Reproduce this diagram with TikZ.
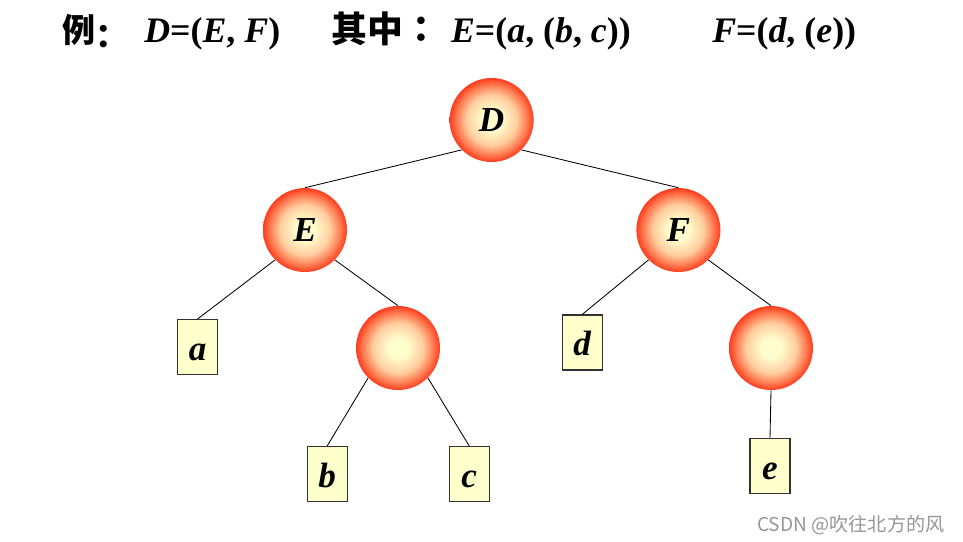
\documentclass[tikz,border=0pt]{standalone}
\usepackage{fontspec}
\setmainfont{Liberation Serif}
\newfontfamily\cjk{Noto Sans CJK TC}
\newfontfamily\cjkmark{Noto Sans CJK SC}
\usepackage{tikz}
\usetikzlibrary{positioning}
\definecolor{ballin}{RGB}{255,252,205}
\definecolor{ballmid}{RGB}{255,205,158}
\definecolor{ballrim}{RGB}{255,122,80}
\definecolor{ballout}{RGB}{255,60,30}
\definecolor{leaffill}{RGB}{255,255,204}
\definecolor{leafline}{RGB}{50,50,50}
\definecolor{markgray}{RGB}{150,150,150}
\pgfdeclareradialshading{ballshade}{\pgfpoint{0bp}{0bp}}{color(0bp)=(ballin); color(6bp)=(ballin); color(15bp)=(ballmid); color(21bp)=(ballrim); color(25bp)=(ballout); color(50bp)=(ballout)}

\begin{document}
\begin{tikzpicture}[
    ball/.style={circle, minimum size=2.1cm, inner sep=0pt, shading=ballshade, font=\fontsize{25}{28}\selectfont\bfseries\itshape},
    leaf/.style={draw=leafline, line width=0.8pt, fill=leaffill, minimum width=1cm, inner sep=0pt, text height=1.0125cm, text depth=0.3625cm, font=\fontsize{25}{28}\selectfont\bfseries\itshape},
    branch/.style={draw, line width=0.6pt},
    title/.style={anchor=base west, inner sep=0pt, font=\fontsize{25.5}{30}\selectfont\bfseries}
]
    \fill[white] (0,0) rectangle (24.075,-13.525);
    \useasboundingbox (0,0) rectangle (24.075,-13.525);

    % Title line
    \node[title, font=\fontsize{23.5}{28}\selectfont\bfseries] (ex) at (1.55,-1.0625) {\cjkmark 例\raisebox{-0.12cm}{：}};
    \node[title] (defD) at (3.6,-1.0625) {\textit{D}=(\textit{E}, \textit{F})};
    \node[title] (where) at (8.28,-1.0625) {\cjk 其中：};
    \node[title] (defE) at (11.27,-1.0625) {\textit{E}=(\textit{a}, (\textit{b}, \textit{c}))};
    \node[title] (defF) at (17.8,-1.0625) {\textit{F}=(\textit{d}, (\textit{e}))};

    % Inner nodes
    \node[ball] (D) at (12.29,-3.0) {D};
    \node[ball] (E) at (7.625,-5.75) {E};
    \node[ball] (F) at (16.96,-5.75) {F};
    \node[ball] (bc) at (9.95,-8.7) {};
    \node[ball] (ee) at (19.275,-8.7) {};

    % Atoms
    \node[leaf] (a) at (4.94,-8.675) {a};
    \node[leaf] (b) at (8.18,-11.85) {b};
    \node[leaf] (c) at (11.73,-11.85) {c};
    \node[leaf] (d) at (14.555,-8.5625) {d};
    \node[leaf] (e) at (19.25,-11.65) {e};

    % Branches
    \draw[branch] (D.225) -- (E.north);
    \draw[branch] (D.315) -- (F.north);
    \draw[branch] (E.225) -- (a.north);
    \draw[branch] (E.315) -- (bc.north);
    \draw[branch] (bc.225) -- (b.north);
    \draw[branch] (bc.315) -- (c.north);
    \draw[branch] (F.225) -- (d.north);
    \draw[branch] (F.315) -- (ee.north);
    \draw[branch] (ee.south) -- (e.north);

    % Watermark
    \node[anchor=base west, inner sep=0pt, text=markgray, font=\cjkmark\fontsize{13.6}{16}\selectfont] (mark) at (18.925,-13.275) {CSDN @吹往北方的风};
\end{tikzpicture}
\end{document}
